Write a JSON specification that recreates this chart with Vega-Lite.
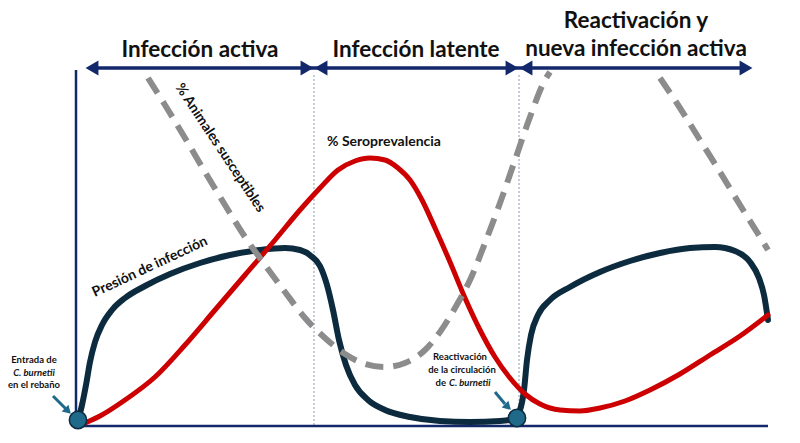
{
  "$schema": "https://vega.github.io/schema/vega-lite/v6.json",
  "width": 800,
  "height": 443,
  "autosize": {"type": "none"},
  "padding": 0,
  "config": {"view": {"stroke": null}, "font": "Lato"},
  "datasets": {
    "presion": [
      {"x":78,"y":421},{"x":82,"y":405},{"x":86,"y":385},{"x":90,"y":362},{"x":95,"y":342},{"x":102,"y":325},{"x":112,"y":310},{"x":125,"y":298},{"x":145,"y":286},{"x":170,"y":274},{"x":200,"y":263},{"x":230,"y":255},{"x":260,"y":250},{"x":285,"y":248},{"x":300,"y":250},{"x":311,"y":256},{"x":320,"y":266},{"x":327,"y":285},{"x":333,"y":310},{"x":339,"y":340},{"x":346,"y":365},{"x":355,"y":385},{"x":368,"y":400},{"x":385,"y":410},{"x":410,"y":417},{"x":440,"y":421},{"x":470,"y":422},{"x":500,"y":421},{"x":514,"y":419},{"x":520,"y":410},{"x":524,"y":390},{"x":527,"y":360},{"x":531,"y":335},{"x":538,"y":315},{"x":550,"y":300},{"x":570,"y":287},{"x":600,"y":272},{"x":630,"y":261},{"x":660,"y":253},{"x":690,"y":248},{"x":715,"y":247},{"x":735,"y":251},{"x":750,"y":262},{"x":759,"y":278},{"x":764,"y":295},{"x":768,"y":320}
    ],
    "sero": [
      {"x":80,"y":425},{"x":100,"y":416},{"x":125,"y":400},{"x":155,"y":377},{"x":185,"y":345},{"x":215,"y":310},{"x":245,"y":275},{"x":275,"y":240},{"x":300,"y":210},{"x":320,"y":188},{"x":338,"y":170},{"x":355,"y":161},{"x":370,"y":158},{"x":385,"y":160},{"x":398,"y":168},{"x":410,"y":180},{"x":422,"y":200},{"x":435,"y":228},{"x":450,"y":262},{"x":465,"y":298},{"x":480,"y":330},{"x":495,"y":357},{"x":510,"y":378},{"x":525,"y":394},{"x":540,"y":404},{"x":560,"y":410},{"x":580,"y":411},{"x":600,"y":408},{"x":625,"y":401},{"x":650,"y":390},{"x":680,"y":374},{"x":710,"y":355},{"x":740,"y":336},{"x":768,"y":315}
    ],
    "suscept": [
      {"s":1,"x":148,"y":78},{"s":1,"x":165,"y":105},{"s":1,"x":185,"y":138},{"s":1,"x":205,"y":172},{"s":1,"x":225,"y":205},{"s":1,"x":245,"y":237},{"s":1,"x":265,"y":265},{"s":1,"x":285,"y":292},{"s":1,"x":305,"y":318},{"s":1,"x":325,"y":338},{"s":1,"x":345,"y":354},{"s":1,"x":365,"y":364},{"s":1,"x":385,"y":367},{"s":1,"x":405,"y":363},{"s":1,"x":425,"y":350},{"s":1,"x":440,"y":332},{"s":1,"x":455,"y":308},{"s":1,"x":470,"y":280},{"s":1,"x":485,"y":243},{"s":1,"x":500,"y":203},{"s":1,"x":515,"y":160},{"s":1,"x":530,"y":117},{"s":1,"x":545,"y":80},{"s":1,"x":550,"y":72},
      {"s":2,"x":660,"y":78},{"s":2,"x":680,"y":108},{"s":2,"x":700,"y":140},{"s":2,"x":720,"y":172},{"s":2,"x":740,"y":205},{"s":2,"x":760,"y":237},{"s":2,"x":768,"y":250}
    ]
  },
  "encoding": {
    "x": {"field": "x", "type": "quantitative", "scale": {"domain": [0, 800], "nice": false, "zero": false}, "axis": null},
    "y": {"field": "y", "type": "quantitative", "scale": {"domain": [0, 443], "nice": false, "zero": false, "reverse": true}, "axis": null}
  },
  "layer": [
    {
      "data": {"values": [{"x":314,"y":75,"x2":314,"y2":425},{"x":519,"y":75,"x2":519,"y2":415}]},
      "mark": {"type": "rule", "stroke": "#8a9bb0", "strokeWidth": 1, "strokeDash": [2, 2]},
      "encoding": {"x2": {"field": "x2"}, "y2": {"field": "y2"}}
    },
    {
      "data": {"values": [{"x":76,"y":70,"x2":76,"y2":428},{"x":76,"y":426,"x2":768,"y2":426}]},
      "mark": {"type": "rule", "stroke": "#13276b", "strokeWidth": 2.5},
      "encoding": {"x2": {"field": "x2"}, "y2": {"field": "y2"}}
    },
    {
      "data": {"values": [{"x":90,"y":68,"x2":748,"y2":68}]},
      "mark": {"type": "rule", "stroke": "#13276b", "strokeWidth": 3.5},
      "encoding": {"x2": {"field": "x2"}, "y2": {"field": "y2"}}
    },
    {
      "data": {"values": [{"x":92,"y":68},{"x":321,"y":68},{"x":526,"y":68}]},
      "mark": {"type": "point", "shape": "triangle-left", "filled": true, "fill": "#13276b", "opacity": 1, "size": 220}
    },
    {
      "data": {"values": [{"x":307,"y":68},{"x":512,"y":68},{"x":746,"y":68}]},
      "mark": {"type": "point", "shape": "triangle-right", "filled": true, "fill": "#13276b", "opacity": 1, "size": 220}
    },
    {
      "data": {"name": "presion"},
      "mark": {"type": "line", "stroke": "#0d2b3e", "strokeWidth": 6, "interpolate": "monotone", "strokeCap": "round"}
    },
    {
      "data": {"name": "sero"},
      "mark": {"type": "line", "stroke": "#cc0000", "strokeWidth": 5, "interpolate": "monotone", "strokeCap": "round"}
    },
    {
      "data": {"name": "suscept"},
      "mark": {"type": "line", "stroke": "#8c8c8c", "strokeWidth": 6, "interpolate": "monotone", "strokeDash": [18, 10]},
      "encoding": {"detail": {"field": "s", "type": "nominal"}}
    },
    {
      "data": {"values": [{"x":53,"y":396,"x2":66,"y2":409},{"x":495,"y":392,"x2":505,"y2":404}]},
      "mark": {"type": "rule", "stroke": "#1f6a8a", "strokeWidth": 3},
      "encoding": {"x2": {"field": "x2"}, "y2": {"field": "y2"}}
    },
    {
      "data": {"values": [{"x":67,"y":410},{"x":507,"y":406}]},
      "mark": {"type": "point", "shape": "triangle", "angle": 135, "filled": true, "fill": "#1f6a8a", "opacity": 1, "size": 90}
    },
    {
      "data": {"values": [{"x":78,"y":420},{"x":517,"y":418}]},
      "mark": {"type": "point", "shape": "circle", "filled": true, "fill": "#1f6a8a", "stroke": "#0d2b3e", "strokeWidth": 1.5, "opacity": 1, "size": 300}
    },
    {
      "data": {"values": [{"x":200,"y":57,"t":"Infección activa"},{"x":416,"y":57,"t":"Infección latente"},{"x":636,"y":28,"t":"Reactivación y"},{"x":636,"y":56,"t":"nueva infección activa"}]},
      "mark": {"type": "text", "fontSize": 22.5, "fontWeight": "bold", "align": "center", "baseline": "alphabetic", "fill": "#111111"},
      "encoding": {"text": {"field": "t"}}
    },
    {
      "data": {"values": [{"x":384,"y":142,"t":"% Seroprevalencia"}]},
      "mark": {"type": "text", "fontSize": 14, "fontWeight": "bold", "align": "center", "baseline": "middle", "fill": "#111111"},
      "encoding": {"text": {"field": "t"}}
    },
    {
      "data": {"values": [{"x":220,"y":148,"t":"% Animales susceptibles"}]},
      "mark": {"type": "text", "fontSize": 14, "fontWeight": "bold", "align": "center", "baseline": "middle", "angle": 56.5, "fill": "#111111"},
      "encoding": {"text": {"field": "t"}}
    },
    {
      "data": {"values": [{"x":150,"y":267,"t":"Presión de infección"}]},
      "mark": {"type": "text", "fontSize": 14, "fontWeight": "bold", "align": "center", "baseline": "middle", "angle": -25, "fill": "#111111"},
      "encoding": {"text": {"field": "t"}}
    },
    {
      "data": {"values": [{"x":34,"y":360,"t":"Entrada de"},{"x":34,"y":385,"t":"en el rebaño"},{"x":460,"y":357,"t":"Reactivación"},{"x":462,"y":370,"t":"de la circulación"}]},
      "mark": {"type": "text", "fontSize": 9.5, "fontWeight": "bold", "align": "center", "baseline": "middle", "fill": "#111111"},
      "encoding": {"text": {"field": "t"}}
    },
    {
      "data": {"values": [{"x":34,"y":373,"t":"C. burnetii"}]},
      "mark": {"type": "text", "fontSize": 9.5, "fontWeight": "bold", "fontStyle": "italic", "align": "center", "baseline": "middle", "fill": "#111111"},
      "encoding": {"text": {"field": "t"}}
    },
    {
      "data": {"values": [{"x":446,"y":383,"t":"de"}]},
      "mark": {"type": "text", "fontSize": 9.5, "fontWeight": "bold", "align": "right", "baseline": "middle", "fill": "#111111"},
      "encoding": {"text": {"field": "t"}}
    },
    {
      "data": {"values": [{"x":449,"y":383,"t":"C. burnetii"}]},
      "mark": {"type": "text", "fontSize": 9.5, "fontWeight": "bold", "fontStyle": "italic", "align": "left", "baseline": "middle", "fill": "#111111"},
      "encoding": {"text": {"field": "t"}}
    }
  ]
}
